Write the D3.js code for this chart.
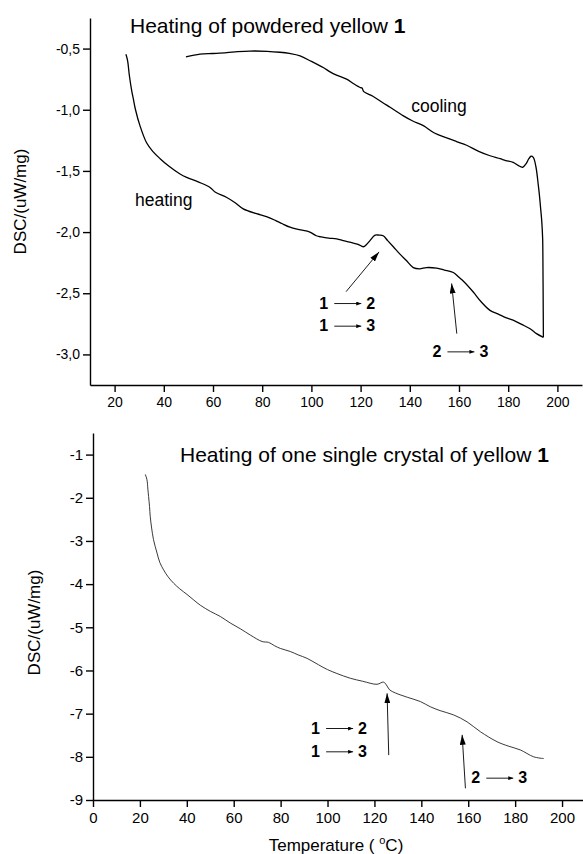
<!DOCTYPE html>
<html>
<head>
<meta charset="utf-8">
<script src="https://cdn.jsdelivr.net/npm/d3@7"></script>
<style>
  body { margin: 0; background: #fff; }
  svg { display: block; font-family: Arial, "Liberation Sans", sans-serif; }
</style>
</head>
<body>
<svg id="chart" width="583" height="854"></svg>
<script>
// --- data: [temperature (°C), DSC (uW/mg)] ---
const powderHeating = [
  [24.6,-0.546],[25.3,-0.60],[26,-0.72],[27,-0.85],[27.6,-0.91],[28.5,-1.0],[30.3,-1.13],
  [33,-1.27],[35.5,-1.34],[38.5,-1.40],[42,-1.46],[46.6,-1.525],[49.3,-1.553],[54,-1.59],
  [58.8,-1.635],[61,-1.675],[65.6,-1.717],[69,-1.76],[72.3,-1.81],[77.7,-1.85],
  [82,-1.875],[85.9,-1.91],[88,-1.93],[91.3,-1.96],[95,-1.98],[99.4,-2.0],[102,-2.03],
  [104,-2.04],[107,-2.05],[110.3,-2.055],[113,-2.07],[116,-2.085],[119,-2.10],[121.1,-2.12],
  [122.5,-2.10],[123.8,-2.07],[125.9,-2.025],[127.5,-2.025],[129.2,-2.03],[131,-2.07],
  [133.3,-2.12],[136,-2.18],[138.5,-2.23],[141.4,-2.29],[144,-2.30],[146.8,-2.29],
  [150.9,-2.295],[154,-2.31],[157.7,-2.33],[160,-2.37],[161.7,-2.40],[165.8,-2.49],
  [169,-2.57],[172.6,-2.64],[176,-2.67],[179,-2.70],[182,-2.72],[185.5,-2.755],
  [188.9,-2.79],[191.5,-2.83],[194.3,-2.86]
];
const powderCooling = [
  [194.3,-2.86],[194.2,-2.5],[194.1,-2.2],[194,-2.05],[193.6,-1.9],[193.2,-1.81],
  [192.7,-1.7],[192.2,-1.61],[191.3,-1.47],[190.2,-1.39],[189.3,-1.38],[188.4,-1.40],
  [187.3,-1.44],[185.9,-1.47],[184,-1.455],[182,-1.43],[179,-1.415],[176.7,-1.40],
  [172.6,-1.376],[168,-1.34],[163.1,-1.29],[159,-1.26],[155,-1.23],[150,-1.19],
  [145.5,-1.13],[141,-1.09],[137.4,-1.05],[132,-0.98],[129.2,-0.945],[125,-0.89],
  [121.3,-0.852],[120.6,-0.823],[119.8,-0.818],[117,-0.785],[114.3,-0.75],[110,-0.715],
  [107.6,-0.69],[104.8,-0.655],[100,-0.605],[95.4,-0.56],[91,-0.54],[87.2,-0.53],
  [82,-0.522],[75,-0.52],[70,-0.525],[65.6,-0.533],[60,-0.54],[54.7,-0.546],[49,-0.568]
];
const crystalHeating = [
  [22.3,-1.46],[23,-1.58],[23.4,-1.8],[23.7,-1.97],[24.1,-2.2],[24.4,-2.43],[25,-2.7],
  [25.8,-2.97],[27.3,-3.28],[28.5,-3.5],[30.1,-3.67],[32,-3.83],[34.4,-3.98],[37,-4.11],
  [40.1,-4.24],[43,-4.37],[45.8,-4.49],[50,-4.63],[54.3,-4.75],[58.5,-4.90],[63,-5.04],
  [67.1,-5.18],[72.1,-5.33],[74.9,-5.35],[77.5,-5.43],[79.9,-5.49],[84.1,-5.56],
  [87.5,-5.64],[91.3,-5.72],[96.2,-5.87],[100,-5.98],[104,-6.07],[109.7,-6.18],
  [115,-6.25],[121.1,-6.32],[123.9,-6.27],[125.4,-6.36],[126.5,-6.45],[128.9,-6.52],
  [134,-6.62],[139.6,-6.72],[143.8,-6.84],[148,-6.93],[153.8,-7.03],[159.5,-7.19],
  [165.2,-7.42],[172.3,-7.65],[177,-7.75],[182.2,-7.84],[187.9,-8.0],[192.2,-8.04]
];

// ticks
const topXMajor = [20, 40, 60, 80, 100, 120, 140, 160, 180, 200];
const topXMinor = [10, 30, 50, 70, 90, 110, 130, 150, 170, 190];
const topYMajor = [-3.0, -2.5, -2.0, -1.5, -1.0, -0.5];
const topYMinor = [-2.75, -2.25, -1.75, -1.25, -0.75, -0.25];
const botXMajor = [0, 20, 40, 60, 80, 100, 120, 140, 160, 180, 200];
const botXMinor = [10, 30, 50, 70, 90, 110, 130, 150, 170, 190];
const botYMajor = [-9, -8, -7, -6, -5, -4, -3, -2, -1];
const botYMinor = [-8.5, -7.5, -6.5, -5.5, -4.5, -3.5, -2.5, -1.5, -0.5];

// annotations, in data coordinates
const topArrows = [
  { from: [114.1, -2.487], to: [127.5, -2.162] },
  { from: [159.1, -2.83], to: [157.0, -2.42] }
];
const topLabels = [
  { at: [103.2, -2.625], a: "1", b: "2" },
  { at: [103.2, -2.81], a: "1", b: "3" },
  { at: [149.2, -3.02], a: "2", b: "3" }
];
const botArrows = [
  { from: [126.1, -7.96], to: [125.4, -6.53] },
  { from: [158.8, -8.73], to: [157.4, -7.49] }
];
const botLabels = [
  { at: [93.0, -7.46], a: "1", b: "2" },
  { at: [93.0, -8.0], a: "1", b: "3" },
  { at: [161.3, -8.61], a: "2", b: "3" }
];

const svg = d3.select("#chart");

const commaLocale = d3.formatLocale({
  decimal: ",", thousands: ".", grouping: [3], currency: ["", ""], minus: "-"
});
const fmtTop = commaLocale.format(".1f");
const fmtBot = commaLocale.format("d");

// arrowhead markers
const defs = svg.append("defs");
defs.append("marker")
  .attr("id", "bigHead")
  .attr("viewBox", "0 -3 10 6")
  .attr("refX", 10).attr("refY", 0)
  .attr("markerUnits", "userSpaceOnUse")
  .attr("markerWidth", 10).attr("markerHeight", 6)
  .attr("orient", "auto")
  .append("path").attr("d", "M0,-3L10,0L0,3Z").attr("fill", "#000");
defs.append("marker")
  .attr("id", "smallHead")
  .attr("viewBox", "0 -2 5 4")
  .attr("refX", 5).attr("refY", 0)
  .attr("markerUnits", "userSpaceOnUse")
  .attr("markerWidth", 5).attr("markerHeight", 4)
  .attr("orient", "auto")
  .append("path").attr("d", "M0,-2L5,0L0,2Z").attr("fill", "#000");

function drawAxes(x, y, xMajor, xMinor, yMajor, yMinor, fmt, fontSize) {
  const bottom = y.range()[0];
  const left = x.range()[0];

  const gx = svg.append("g").attr("transform", `translate(0,${bottom})`);
  gx.call(d3.axisBottom(x).tickValues(xMinor).tickSize(4).tickSizeOuter(0).tickFormat(""));
  gx.call(d3.axisBottom(x).tickValues(xMajor).tickSize(7).tickSizeOuter(0).tickPadding(5));

  const gy = svg.append("g").attr("transform", `translate(${left},0)`);
  gy.call(d3.axisLeft(y).tickValues(yMinor).tickSize(4).tickSizeOuter(0).tickFormat(""));
  gy.call(d3.axisLeft(y).tickValues(yMajor).tickSize(7).tickSizeOuter(0).tickPadding(3).tickFormat(fmt));

  [gx, gy].forEach((g) => {
    g.selectAll("path, line").attr("stroke", "#000").attr("stroke-width", 1.4);
    g.selectAll("text")
      .attr("fill", "#000")
      .attr("font-family", "Arial, 'Liberation Sans', sans-serif")
      .attr("font-size", fontSize);
  });
}

function drawArrows(x, y, arrows) {
  svg.append("g").selectAll("line").data(arrows).join("line")
    .attr("x1", (d) => x(d.from[0])).attr("y1", (d) => y(d.from[1]))
    .attr("x2", (d) => x(d.to[0])).attr("y2", (d) => y(d.to[1]))
    .attr("stroke", "#000").attr("stroke-width", 0.9)
    .attr("marker-end", "url(#bigHead)");
}

function drawTransitionLabels(x, y, labels) {
  const g = svg.append("g").selectAll("g").data(labels).join("g")
    .attr("transform", (d) => `translate(${x(d.at[0])},${y(d.at[1])})`)
    .attr("font-size", 16).attr("font-weight", "bold");
  g.append("text").text((d) => d.a);
  g.append("line")
    .attr("x1", 15).attr("x2", 42).attr("y1", -5).attr("y2", -5)
    .attr("stroke", "#000").attr("stroke-width", 0.9)
    .attr("marker-end", "url(#smallHead)");
  g.append("text").attr("x", 47).text((d) => d.b);
}

// ---------- top panel: powdered sample ----------
const xTop = d3.scaleLinear().domain([10, 210]).range([90, 582]);
const yTop = d3.scaleLinear().domain([-3.25, -0.25]).range([385, 18]);

drawAxes(xTop, yTop, topXMajor, topXMinor, topYMajor, topYMinor, fmtTop, 14);

const lineTop = d3.line().x((d) => xTop(d[0])).y((d) => yTop(d[1])).curve(d3.curveCatmullRom);

svg.append("path").datum(powderHeating)
  .attr("d", lineTop).attr("fill", "none")
  .attr("stroke", "#000").attr("stroke-width", 1.3);
svg.append("path").datum(powderCooling)
  .attr("d", lineTop).attr("fill", "none")
  .attr("stroke", "#000").attr("stroke-width", 1.3);

const titleTop = svg.append("text")
  .attr("x", 130).attr("y", 33)
  .attr("font-size", 21).attr("fill", "#000");
titleTop.append("tspan").text("Heating of powdered yellow ");
titleTop.append("tspan").attr("font-weight", "bold").text("1");

svg.append("text").attr("x", xTop(140.6)).attr("y", yTop(-1.02))
  .attr("font-size", 17.5).text("cooling");
svg.append("text").attr("x", xTop(28.3)).attr("y", yTop(-1.79))
  .attr("font-size", 17.5).text("heating");

drawArrows(xTop, yTop, topArrows);
drawTransitionLabels(xTop, yTop, topLabels);

svg.append("text")
  .attr("transform", `translate(26,${(yTop.range()[0] + yTop.range()[1]) / 2}) rotate(-90)`)
  .attr("text-anchor", "middle").attr("font-size", 17)
  .text("DSC/(uW/mg)");

// ---------- bottom panel: single crystal ----------
const xBot = d3.scaleLinear().domain([0, 210]).range([93, 585.5]);
const yBot = d3.scaleLinear().domain([-9, -0.5]).range([800, 433]);

drawAxes(xBot, yBot, botXMajor, botXMinor, botYMajor, botYMinor, fmtBot, 15);

const lineBot = d3.line().x((d) => xBot(d[0])).y((d) => yBot(d[1])).curve(d3.curveCatmullRom);
svg.append("path").datum(crystalHeating)
  .attr("d", lineBot).attr("fill", "none")
  .attr("stroke", "#222").attr("stroke-width", 0.9);

const titleBot = svg.append("text")
  .attr("x", 180).attr("y", 462)
  .attr("font-size", 21).attr("fill", "#000");
titleBot.append("tspan").text("Heating of one single crystal of yellow ");
titleBot.append("tspan").attr("font-weight", "bold").text("1");

drawArrows(xBot, yBot, botArrows);
drawTransitionLabels(xBot, yBot, botLabels);

svg.append("text")
  .attr("transform", `translate(40,${(yBot.range()[0] + yBot.range()[1]) / 2 + 6}) rotate(-90)`)
  .attr("text-anchor", "middle").attr("font-size", 17)
  .text("DSC/(uW/mg)");

const xLabel = svg.append("text")
  .attr("x", 336).attr("y", 851)
  .attr("text-anchor", "middle").attr("font-size", 17);
xLabel.append("tspan").text("Temperature ( ");
xLabel.append("tspan").attr("font-size", 11).attr("dy", -7).text("o");
xLabel.append("tspan").attr("dy", 7).text("C)");
</script>
</body>
</html>
